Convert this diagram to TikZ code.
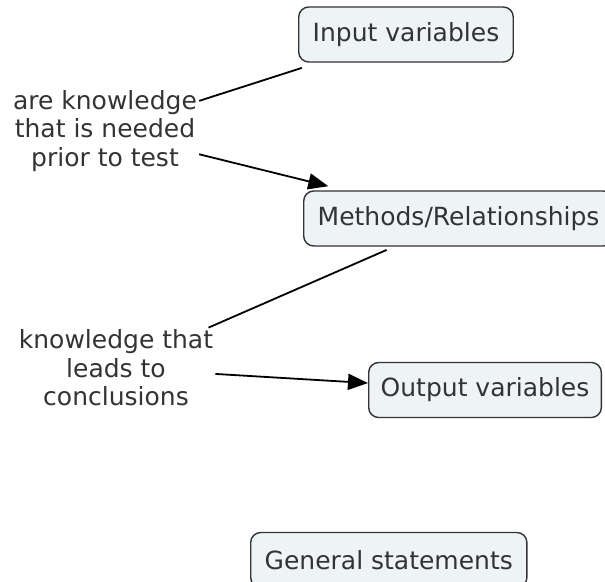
\documentclass[tikz,border=0pt]{standalone}
\usepackage{fontspec}
\setmainfont{DejaVu Sans}
\usepackage{xcolor}
\usetikzlibrary{arrows.meta, positioning}
\definecolor{conceptfill}{HTML}{EEF3F5}
\definecolor{inkgray}{HTML}{333333}

\begin{document}
\begin{tikzpicture}[
            x=1pt, y=-1pt,
            font=\fontsize{25}{28.5}\selectfont,
            concept/.style={rectangle, rounded corners=10pt, draw=inkgray, line width=1.4pt, fill=conceptfill, text=inkgray, inner xsep=14pt, minimum height=55pt},
            linkword/.style={align=center, text=inkgray, inner sep=2pt},
            link/.style={line width=1.8pt, draw=black}
        ]
            \useasboundingbox (0,0) rectangle (605,581);
            \clip (0,0) rectangle (605,581);

            % Concepts
            \node[concept] (inp) at (406,34.5) {Input variables};
            \node[concept, anchor=west] (meth) at (303,218.5) {Methods/Relationships};
            \node[concept, anchor=west, inner xsep=12pt] (outp) at (368,390) {Output variables};
            \node[concept, anchor=west] (gen) at (250,560) {General statements};

            % Linking phrases
            \node[linkword] (needed) at (105,131) {are knowledge\\that is needed\\prior to test};
            \node[linkword] (leads) at (116,368) {knowledge that\\leads to\\conclusions};

            % Links
            \path[link]
                (needed) edge[shorten >=17pt] (inp)
                (leads) edge[shorten >=8pt] (meth);

            \path[link, -{Triangle[length=20pt, width=16pt]}]
                (needed) edge[shorten >=17pt] (meth)
                (leads) edge (outp);

        \end{tikzpicture}
\end{document}
